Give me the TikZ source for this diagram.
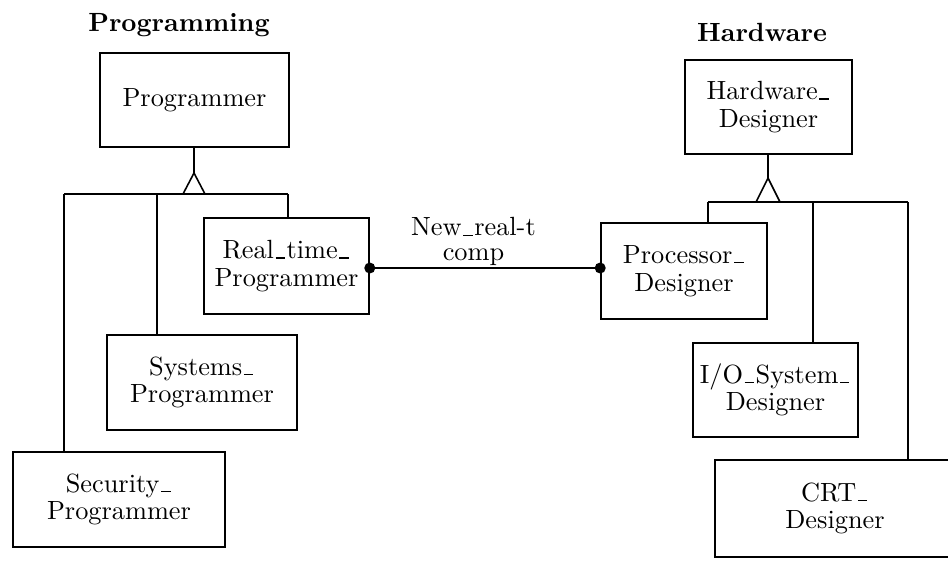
\documentclass[tikz,border=0pt]{standalone}
\usetikzlibrary{calc}
\newcommand\usc{\kern0.6pt\rule[0pt]{3.6pt}{0.45pt}\kern0.6pt}
\tikzset{
  u/.style={x=0.38pt,y=-0.38pt},
  entity/.style 2 args={draw, rectangle, line width=0.6pt, inner sep=0pt,
    minimum width=#1*0.38pt, minimum height=#2*0.38pt, align=center,
    font=\fontsize{10}{10.5}\selectfont},
  title/.style={font=\bfseries},
  conn/.style={line width=0.6pt},
  isa/.style={line width=0.6pt, fill=white, line join=miter},
  dot/.style={circle, fill=black, inner sep=0pt, minimum size=4.2pt},
  rolelabel/.style={align=center, font=\fontsize{10}{9.4}\selectfont, inner sep=0.6pt}
}
\begin{document}
\begin{tikzpicture}[u]
\useasboundingbox (0,0) rectangle (948,561);
\clip (0,0) rectangle (948,561);

% titles
\node[title] (tprog) at (179,25) {Programming};
\node[title] (thw) at (762,32) {Hardware};

% Programming side
\node[entity={189}{94}] (prog) at (194.5,100) {Programmer};
\node[entity={165}{96}] (rt) at (286.5,266) {Real\usc time\usc\\Programmer};
\node[entity={190}{95}] (sys) at (202,382.5) {Systems\usc\\Programmer};
\node[entity={212}{95}] (sec) at (119,499.5) {Security\usc\\Programmer};

\coordinate (papex) at (194,173);
\coordinate (pbase) at (194,194);
\coordinate (pbl) at (64,194);
\coordinate (pbm) at (157,194);
\coordinate (pbr) at (288,194);

\draw[conn] (prog.south -| papex) -- (papex);
\draw[conn] (pbl) -- (pbr);
\draw[isa] (papex) -- ($(pbase)+(-11,0)$) -- ($(pbase)+(11,0)$) -- cycle;
\draw[conn] (pbl) -- (pbl |- sec.north);
\draw[conn] (pbm) -- (pbm |- sys.north);
\draw[conn] (pbr) -- (pbr |- rt.north);

% Hardware side
\node[entity={167}{94}] (hd) at (768.5,107) {Hardware\usc\\Designer};
\node[entity={166}{96}] (proc) at (684,271) {Processor\usc\\Designer};
\node[entity={165}{94}] (io) at (775.5,390) {I/O\usc System\usc\\Designer};
\node[entity={240}{97}] (crt) at (835,508.5) {CRT\usc\\Designer};

\coordinate (hapex) at (768,178);
\coordinate (hbase) at (768,202);
\coordinate (hbl) at (708,202);
\coordinate (hbm) at (813,202);
\coordinate (hbr) at (908,202);

\draw[conn] (hd.south -| hapex) -- (hapex);
\draw[conn] (hbl) -- (hbr);
\draw[isa] (hapex) -- ($(hbase)+(-12,0)$) -- ($(hbase)+(12,0)$) -- cycle;
\draw[conn] (hbl) -- (hbl |- proc.north);
\draw[conn] (hbm) -- (hbm |- io.north);
\draw[conn] (hbr) -- (hbr |- crt.north);

% relationship
\coordinate (rtend) at (rt.east |- 0,268);
\coordinate (procend) at (proc.west |- 0,268);
\draw[conn] (rtend) -- node[rolelabel, above, pos=0.45] (rel) {New\usc real-t\\comp} (procend);
\node[dot] (d1) at (rtend) {};
\node[dot] (d2) at (procend) {};
\end{tikzpicture}
\end{document}
